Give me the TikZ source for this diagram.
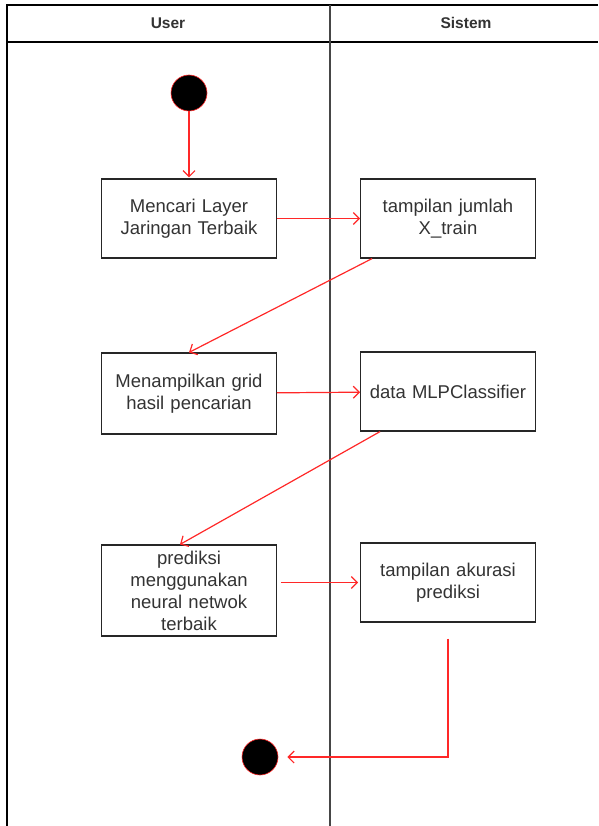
\documentclass[tikz,border=0pt]{standalone}
\usepackage{fontspec}
\setmainfont{Liberation Sans}
\usetikzlibrary{arrows.meta,positioning,calc}
\definecolor{flowred}{RGB}{255,40,40}
\definecolor{lanegray}{RGB}{70,70,70}
\tikzstyle{Activity}=[shape=rectangle,draw=black!85,line width=1.1pt,fill=white,minimum width=174pt,text width=168pt,align=center,text=black!80,font=\fontsize{18.5}{22}\selectfont]
\tikzstyle{Terminal}=[shape=circle,draw=flowred,fill=black,line width=0.6pt,minimum size=36pt,inner sep=0pt]
\tikzstyle{Lane}=[font=\bfseries\fontsize{15.5}{18}\selectfont,text=black!80]
\tikzstyle{flowedge}=[-{Straight Barb[length=6pt,width=12pt]},draw=flowred,line width=1.2pt]

\begin{document}
\begin{tikzpicture}[x=1pt,y=-1pt]
 \useasboundingbox (0,0) rectangle (598,826);

 % swimlanes
 \draw[line width=1.6pt] (7,826) -- (7,5) -- (598,5);
 \draw[line width=1.1pt] (7,42) -- (598,42);
 \draw[line width=2pt,lanegray] (330,5) -- (330,826);
 \node[Lane] (user) at (168,23) {User};
 \node[Lane] (sistem) at (466,23) {Sistem};

 \node[Terminal] (start) at (189,93) {};
 \node[Terminal] (end) at (260,757) {};

 \node[Activity,minimum height=79pt] (cari) at (189,218.5) {Mencari Layer\\Jaringan Terbaik};
 \node[Activity,minimum height=79pt] (jumlah) at (448,218.5) {tampilan jumlah\\X\_train};

 \node[Activity,minimum height=81pt] (grid) at (189,393.5) {Menampilkan grid\\hasil pencarian};
 \node[Activity,minimum height=79pt] (mlp) at (448,391.5) {data MLPClassifier};

 \node[Activity,minimum height=91pt] (prediksi) at (189,590.5) {prediksi\\menggunakan\\neural netwok\\terbaik};
 \node[Activity,minimum height=79pt] (akurasi) at (448,582.5) {tampilan akurasi\\prediksi};

 \path
 (start) edge [flowedge,shorten >=1pt] (cari)
 (cari) edge [flowedge] (jumlah)
 ([xshift=12pt]jumlah.south west) edge [flowedge] (grid.north)
 (grid) edge [flowedge] (mlp)
 ([xshift=20pt]mlp.south west) edge [flowedge] ([xshift=-9pt]prediksi.north)
 ([xshift=4pt]prediksi.east |- akurasi.west) edge [flowedge,shorten >=2pt] (akurasi.west);

 \draw[flowedge,shorten >=9pt] ([yshift=-16pt]akurasi.south) |- (end.east);

\end{tikzpicture}
\end{document}
